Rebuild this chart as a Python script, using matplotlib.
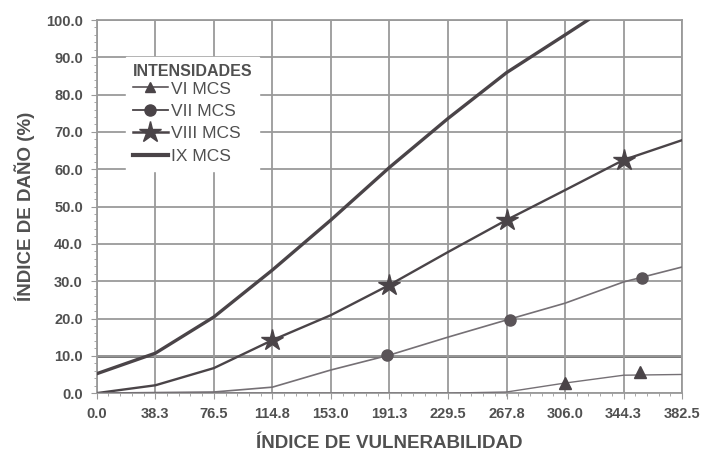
import matplotlib
matplotlib.use("Agg")
import matplotlib.pyplot as plt
from matplotlib.lines import Line2D
import numpy as np

# Data
x_ticks = [0.0, 38.3, 76.5, 114.8, 153.0, 191.3, 229.5, 267.8, 306.0, 344.3, 382.5]
x_tick_labels = ["0.0", "38.3", "76.5", "114.8", "153.0", "191.3", "229.5", "267.8", "306.0", "344.3", "382.5"]
y_ticks = [0, 10, 20, 30, 40, 50, 60, 70, 80, 90, 100]
y_tick_labels = ["0.0", "10.0", "20.0", "30.0", "40.0", "50.0", "60.0", "70.0", "80.0", "90.0", "100.0"]

ix_x = [0.0, 38.3, 76.5, 114.8, 153.0, 191.3, 229.5, 267.8, 306.0, 321.0]
ix_y = [5.2, 10.7, 20.4, 33.0, 46.4, 60.5, 73.6, 85.9, 96.0, 100.0]

viii_x = [0.0, 38.3, 76.5, 114.8, 153.0, 191.3, 229.5, 267.8, 306.0, 344.3, 382.5]
viii_y = [0.0, 2.1, 6.7, 14.2, 20.9, 29.0, 37.8, 46.4, 54.4, 62.5, 67.8]
viii_mx = [114.8, 191.3, 267.8, 344.3]
viii_my = [14.2, 29.0, 46.4, 62.5]

vii_x = [0.0, 76.5, 114.8, 153.0, 191.3, 229.5, 267.8, 306.0, 344.3, 382.5]
vii_y = [0.0, 0.3, 1.6, 6.2, 10.2, 15.0, 19.6, 24.1, 29.8, 33.8]
vii_mx = [190.0, 270.0, 356.0]
vii_my = [10.2, 19.6, 30.8]

vi_x = [0.0, 229.5, 267.8, 306.0, 344.3, 382.5]
vi_y = [0.0, 0.0, 0.3, 2.7, 4.8, 5.0]
vi_mx = [306.0, 355.0]
vi_my = [2.7, 5.6]

line_col = "#4a4448"
grid_col = "#9a9a9a"
txt_col = "#505050"

plt.rcParams['font.family'] = ['Liberation Sans', 'DejaVu Sans']

fig = plt.figure(figsize=(7.01, 4.55), dpi=100)
ax = fig.add_axes([0.138, 0.136, 0.835, 0.820])

ax.set_xlim(0, 382.5)
ax.set_ylim(0, 100)

ax.set_xticks(x_ticks)
ax.set_xticklabels(x_tick_labels)
ax.set_yticks(y_ticks)
ax.set_yticklabels(y_tick_labels)
ax.set_yticks(np.arange(0, 100.1, 2), minor=True)
ax.set_xticks(np.arange(0, 382.6, 382.5 / 50), minor=True)

ax.grid(True, which='major', color=grid_col, lw=1.3, zorder=0)
ax.axhline(10, color="#6a6a6a", lw=2.0, zorder=1)

for s in ax.spines.values():
    s.set_color(grid_col)
    s.set_linewidth(1.3)

ax.tick_params(axis='both', which='major', length=4, color=grid_col, labelsize=10.5,
               labelcolor=txt_col, pad=6)
ax.tick_params(axis='both', which='minor', length=2.5, color=grid_col)
for lab in ax.get_xticklabels() + ax.get_yticklabels():
    lab.set_fontweight('bold')

# Curves
ax.plot(ix_x, ix_y, color=line_col, lw=2.4, zorder=5)
ax.plot(viii_x, viii_y, color=line_col, lw=1.7, zorder=5)
ax.plot(viii_mx, viii_my, ls='none', marker='*', ms=16, color=line_col, zorder=6)
ax.plot(vii_x, vii_y, color="#757075", lw=1.2, zorder=5)
ax.plot(vii_mx, vii_my, ls='none', marker='o', ms=8, color="#5a5458", zorder=6)
ax.plot(vi_x, vi_y, color="#757075", lw=1.0, zorder=5)
ax.plot(vi_mx, vi_my, ls='none', marker='^', ms=8, color=line_col, zorder=6)

# Legend
handles = [
    Line2D([], [], color=line_col, lw=1.1, marker='^', ms=7),
    Line2D([], [], color=line_col, lw=1.3, marker='o', ms=8),
    Line2D([], [], color=line_col, lw=1.8, marker='*', ms=16),
    Line2D([], [], color=line_col, lw=3.0),
]
leg = ax.legend(handles, ["VI MCS", "VII MCS", "VIII MCS", "IX MCS"],
                title="INTENSIDADES", loc='upper left', bbox_to_anchor=(0.035, 0.925),
                frameon=True, fancybox=False, edgecolor='white', facecolor='white',
                framealpha=1.0, handlelength=2.0, handletextpad=0.2,
                labelspacing=0.42, borderpad=0.4,
                prop={'size': 12.5, 'family': ['Liberation Sans']})
leg.get_title().set_fontweight('bold')
leg.get_title().set_fontsize(11.5)
leg.get_title().set_color(txt_col)
for t in leg.get_texts():
    t.set_color(txt_col)
leg._legend_box.align = "left"
leg._legend_box.sep = 2
leg.set_zorder(4)

ax.set_xlabel("ÍNDICE DE VULNERABILIDAD", fontsize=13.5, fontweight='bold', color=txt_col, labelpad=10)
ax.set_ylabel("ÍNDICE DE DAÑO (%)", fontsize=13.5, fontweight='bold', color=txt_col, labelpad=8)

fig.savefig("out.png", dpi=100, facecolor='white')
